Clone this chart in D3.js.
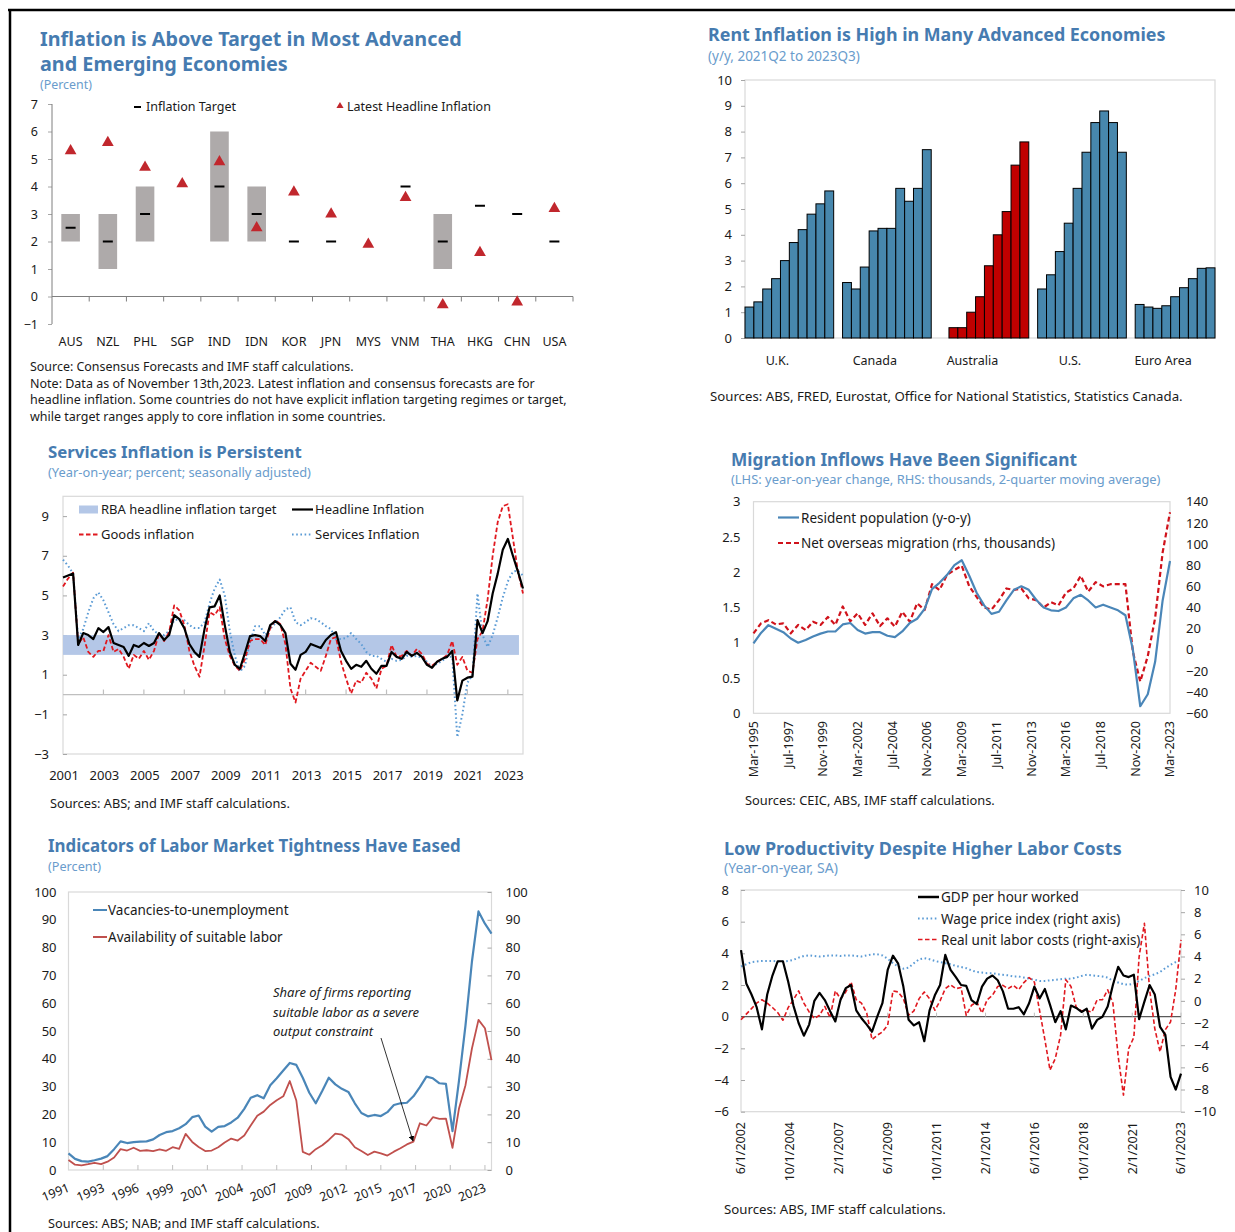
<!DOCTYPE html>
<html>
<head>
<meta charset="utf-8">
<script src="https://cdn.jsdelivr.net/npm/d3@7"></script>
<style>
body { margin: 0; background: #fff; }
</style>
</head>
<body>
<div id="mainDiv"></div>
<script>
// ---------- data ----------
// panel 1: inflation vs target
var countries = ["AUS", "NZL", "PHL", "SGP", "IND", "IDN", "KOR", "JPN", "MYS", "VNM", "THA", "HKG", "CHN", "USA"];
var targetLow = [2, 1, 2, null, 2, 2, null, null, null, null, 1, null, null, null];
var targetHigh = [3, 3, 4, null, 6, 4, null, null, null, null, 3, null, null, null];
var targetPoint = [2.5, 2, 3, null, 4, 3, 2, 2, null, 4, 2, 3.3, 3, 2];
var latestInflation = [5.3, 5.6, 4.7, 4.1, 4.9, 2.5, 3.8, 3.0, 1.9, 3.6, -0.3, 1.6, -0.2, 3.2];

// panel 2: rent inflation, 2021Q2 to 2023Q3
var rentGroups = ["U.K.", "Canada", "Australia", "U.S.", "Euro Area"];
var rentUK = [1.2, 1.4, 1.9, 2.3, 3.0, 3.7, 4.2, 4.8, 5.2, 5.7];
var rentCanada = [2.15, 1.9, 2.75, 4.15, 4.25, 4.25, 5.8, 5.3, 5.8, 7.3];
var rentAustralia = [null, 0.4, 0.4, 1.0, 1.6, 2.8, 4.0, 4.9, 6.7, 7.6];
var rentUS = [1.9, 2.45, 3.35, 4.45, 5.8, 7.2, 8.35, 8.8, 8.35, 7.2];
var rentEuro = [1.3, 1.2, 1.15, 1.25, 1.6, 1.95, 2.3, 2.7, 2.72];

// panel 3: services inflation, quarterly from 2000Q4
var p3TickLabels = ["2001", "2003", "2005", "2007", "2009", "2011", "2013", "2015", "2017", "2019", "2021", "2023"];
var rbaTarget = [2, 3];
var headlineInfl = [5.9, 6.0, 6.1, 2.5, 3.1, 3.0, 2.8, 3.35, 3.15, 3.4, 2.6, 2.5, 2.4, 1.95, 2.5, 2.4, 2.6, 2.45, 2.6, 3.1,
  2.75, 3.0, 4.0, 3.8, 3.35, 2.55, 2.15, 1.9, 3.3, 4.4, 4.45, 5.0, 3.5, 2.15, 1.5, 1.3, 2.1, 2.95, 3.0, 2.95,
  2.7, 3.5, 3.7, 3.5, 3.1, 1.55, 1.25, 2.0, 2.15, 2.55, 2.45, 2.35, 2.75, 3.0, 3.15, 2.2, 1.7, 1.3, 1.5, 1.4,
  1.7, 1.3, 1.05, 1.45, 1.45, 2.15, 1.9, 1.8, 2.15, 1.95, 2.1, 1.9, 1.5, 1.35, 1.65, 1.8, 1.9, 2.2, -0.3, 0.7,
  0.85, 0.9, 3.75, 3.1, 3.7, 5.1, 6.1, 7.3, 7.85, 7.0, 6.2, 5.35];
var goodsInfl = [5.45, 5.85, 6.15, 2.55, 2.9, 2.15, 1.9, 2.2, 2.2, 3.0, 2.15, 2.3, 1.9, 1.3, 2.0, 1.8, 2.2, 1.75, 2.2, 3.1,
  2.7, 3.15, 4.5, 4.25, 3.5, 2.2, 1.45, 0.9, 2.45, 4.15, 4.0, 4.4, 2.8, 1.95, 1.45, 1.2, 1.8, 2.7, 2.8, 2.8,
  2.5, 3.35, 3.75, 3.55, 2.55, 0.3, -0.4, 0.8, 1.2, 1.6, 1.4, 1.2, 1.95, 2.8, 2.9, 1.65, 0.8, 0.05, 0.7, 0.6,
  1.1, 0.8, 0.3, 1.3, 1.45, 2.5, 1.9, 1.95, 2.2, 1.95, 2.3, 2.05, 1.55, 1.45, 1.65, 1.8, 2.0, 2.7, 1.5, 1.9,
  1.2, 1.1, 2.8, 3.2, 4.8, 7.0, 8.7, 9.5, 9.6, 7.9, 6.2, 5.1];
var servicesInfl = [6.8, 6.5, 6.1, 2.8, 3.3, 4.15, 4.85, 5.15, 4.75, 4.15, 3.55, 3.2, 3.35, 3.5, 3.5, 3.35, 3.2, 3.6, 3.2, 3.05,
  3.0, 3.2, 3.75, 3.8, 3.75, 3.5, 3.35, 3.35, 3.65, 4.6, 5.35, 5.8, 5.0, 3.2, 1.95, 1.15, 1.45, 2.65, 3.45, 3.45,
  3.0, 3.3, 3.6, 3.9, 4.3, 4.4, 3.65, 3.5, 3.65, 3.85, 3.8, 3.65, 3.45, 3.3, 2.8, 2.8, 2.85, 3.1, 2.8, 2.55,
  2.15, 1.95, 1.95, 1.8, 1.65, 1.8, 1.7, 1.75, 1.95, 1.9, 1.95, 1.85, 1.65, 1.4, 1.55, 1.7, 1.9, 1.9, -2.15, -1.0,
  0.6, 0.95, 5.1, 3.0, 2.4, 3.0, 3.9, 4.9, 5.7, 6.2, 6.25, 6.0];

// panel 4: migration, half-yearly Mar-1995 to Mar-2023
var popGrowth = [0.99, 1.14, 1.25, 1.2, 1.15, 1.06, 1.0, 1.04, 1.09, 1.13, 1.16, 1.16, 1.26, 1.28, 1.18, 1.13, 1.15, 1.15, 1.1, 1.08,
  1.16, 1.28, 1.34, 1.48, 1.76, 1.85, 1.96, 2.1, 2.17, 1.95, 1.71, 1.53, 1.41, 1.44, 1.6, 1.75, 1.8, 1.75, 1.61, 1.5,
  1.46, 1.45, 1.5, 1.63, 1.68, 1.6, 1.5, 1.54, 1.5, 1.46, 1.39, 0.9, 0.1, 0.27, 0.73, 1.6, 2.16];
var netMigration = [15.6, 25, 28, 24, 25, 15.6, 23.5, 18.7, 26.6, 23.5, 31, 23.5, 41, 27, 34.5, 23.5, 34.5, 22.5, 29.8, 21.9,
  36, 26.6, 44, 37.6, 62, 56.5, 70.7, 75.4, 79.5, 60, 50, 40, 38, 47, 58, 56.5, 58, 48.7, 47, 40,
  45, 42, 54, 58, 70, 55, 64, 60, 62, 62, 62, -2, -30, -6, 30, 92, 130];

// panel 5: labour market, half-yearly Mar-1991 to Sep-2023
var vacancies = [6.0, 4.0, 3.2, 3.0, 3.5, 4.1, 5.0, 7.5, 10.3, 9.7, 10.0, 10.2, 10.3, 11.0, 12.6, 13.6, 14.0, 15.0, 16.5, 19.0,
  19.6, 15.6, 13.8, 15.5, 15.8, 17.1, 18.8, 22.0, 26.0, 26.9, 25.8, 30.5, 33.0, 35.8, 38.5, 37.8, 33.2, 27.8, 24.0, 28.5,
  33.2, 30.8, 29.2, 28.1, 24.0, 20.5, 19.3, 19.8, 19.4, 20.8, 23.4, 24.0, 24.2, 26.5, 29.8, 33.6, 33.0, 31.2, 31.0, 14.0,
  32.0, 52.0, 75.0, 93.0, 88.6, 85.0];
var suitableLabor = [3.6, 1.9, 1.7, 2.1, 2.6, 2.1, 3.0, 4.5, 7.5, 7.0, 8.0, 6.9, 7.1, 6.8, 7.4, 6.9, 8.2, 7.6, 13.0, 10.1,
  8.3, 6.8, 7.0, 8.2, 9.9, 11.3, 10.6, 12.4, 16.0, 19.5, 21.0, 23.4, 25.1, 26.5, 32.0, 25.0, 6.5, 5.5, 7.5, 8.9,
  10.8, 13.1, 12.7, 11.1, 8.2, 6.8, 5.4, 6.6, 6.0, 5.2, 6.6, 7.8, 9.2, 10.2, 16.8, 16.0, 19.0, 18.4, 18.5, 8.0,
  22.0, 30.5, 43.7, 54.0, 51.0, 39.5];

// panel 6: productivity, quarterly Jun-2002 to Jun-2023
var gdpPerHour = [4.2, 2.1, 1.4, 0.6, -0.8, 1.4, 2.6, 3.5, 3.5, 2.2, 0.7, -0.4, -1.2, -0.5, 1.0, 1.5, 1.05, 0.35, -0.3, 1.05,
  1.8, 2.0, 0.4, -0.1, -0.5, -0.95, 0, 0.85, 2.95, 3.85, 3.35, 1.9, -0.2, -0.55, -0.35, -1.55, 0.4, 1.35, 2.0, 3.9,
  2.95, 2.5, 2.0, 1.95, 1.05, 0.8, 1.9, 2.4, 2.6, 2.3, 1.6, 0.5, 0.5, 0.6, 0.15, 0.85, 1.9, 1.15, 1.75, 0.75,
  -0.35, 0.35, -0.8, 0.7, 0.55, 0.3, 0.5, -0.75, -0.2, 0, 0.65, 2.0, 3.15, 2.6, 2.5, 2.65, -0.15, 0.95, 2.0, 1.4,
  -0.65, -1.15, -3.8, -4.6, -3.6];
var wagePriceIndex = [3.1, 3.3, 3.5, 3.55, 3.6, 3.6, 3.6, 3.55, 3.55, 3.6, 3.7, 3.9, 4.05, 4.1, 4.05, 4.0, 4.05, 4.1, 4.1, 4.05,
  4.1, 4.1, 4.05, 4.0, 4.1, 4.2, 4.2, 4.1, 3.8, 3.4, 3.1, 2.9, 3.0, 3.4, 3.75, 3.85, 3.75, 3.6, 3.5, 3.4,
  3.3, 3.15, 3.05, 2.95, 2.75, 2.6, 2.55, 2.5, 2.5, 2.4, 2.35, 2.3, 2.2, 2.2, 2.1, 2.0, 1.9, 1.8, 1.8, 1.85,
  1.9, 1.95, 2.0, 2.0, 2.1, 2.25, 2.35, 2.3, 2.25, 2.2, 2.1, 1.8, 1.65, 1.5, 1.45, 1.55, 1.8, 2.05, 2.25, 2.4,
  2.6, 2.95, 3.25, 3.5, 3.7];
var realUnitLaborCosts = [-1.7, -1.2, -0.7, -0.2, 0.1, -0.2, -0.6, -1.05, -1.75, -0.6, 0.1, 0.9, -0.2, -1.0, -1.6, -1.3, -0.5, -1.5, 0.9, 0.2,
  0.8, 1.7, 0.1, -0.2, -1.1, -3.5, -3.1, -2.8, -2.2, 0.9, 0.8, 0.2, -1.3, -0.9, 0.2, 0.8, 0.2, -0.85, 0, 1.1,
  1.45, 1.1, 1.2, -1.3, -0.4, -0.1, -1.1, 0.1, 0.5, 1.3, 1.4, 1.1, 1.4, 1.0, 1.65, 2.1, 1.7, -0.9, -3.5, -6.25,
  -5.2, -3.1, 1.9, 1.3, -0.6, -0.9, -0.9, -1.0, 0.1, 0.1, 1.0, -0.2, -5.0, -8.5, -4.3, -3.3, 4.0, 7.0, 1.0, -2.5,
  -4.6, -2.6, -1.9, 1.0, 5.5];

// ---------- setup ----------
var FONT = '"Noto Sans", "Open Sans", sans-serif';
var TITLE_BLUE = "#467bb0";
var SUB_BLUE = "#6a9ccc";

var svg = d3.select("#mainDiv").append("svg")
  .attr("width", 1235)
  .attr("height", 1232)
  .attr("font-family", FONT)
  .style("display", "block");

svg.append("rect").attr("width", 1235).attr("height", 1232).attr("fill", "#fff");

// page frame
svg.append("line").attr("x1", 8).attr("x2", 1235).attr("y1", 10).attr("y2", 10)
  .attr("stroke", "#000").attr("stroke-width", 2.5);
svg.append("line").attr("x1", 10).attr("x2", 10).attr("y1", 9).attr("y2", 1232)
  .attr("stroke", "#000").attr("stroke-width", 2.5);

function fit(sel, width) {
  var len = sel.node().getComputedTextLength();
  var fs = parseFloat(sel.attr("font-size"));
  var ns = fs * width / len;
  sel.attr("font-size", ns);
  return ns;
}

function text(x, y, s, size, fill) {
  return svg.append("text")
    .attr("x", x).attr("y", y)
    .attr("font-size", size)
    .attr("fill", fill || "#1a1a1a")
    .text(s);
}

function title(x, y, lines, width) {
  var t = text(x, y, lines[0], 19, TITLE_BLUE).attr("font-weight", "bold");
  var fs = fit(t, width);
  for (var i = 1; i < lines.length; i++) {
    text(x, y + 25 * i, lines[i], fs, TITLE_BLUE).attr("font-weight", "bold");
  }
}

function subtitle(x, y, s, width) {
  var t = text(x, y, s, 12.5, SUB_BLUE);
  if (width) fit(t, width);
}

function note(x, y, s, width) {
  var t = text(x, y, s, 12.5, "#1a1a1a");
  if (width) fit(t, width);
}

function styleAxis(g, size) {
  g.attr("font-family", FONT);
  g.select(".domain").remove();
  g.selectAll(".tick line").attr("stroke", "#a6a6a6");
  g.selectAll(".tick text").attr("font-size", size || 13).attr("fill", "#1a1a1a");
}

function box(x0, y0, x1, y1) {
  svg.append("rect")
    .attr("x", x0).attr("y", y0)
    .attr("width", x1 - x0).attr("height", y1 - y0)
    .attr("fill", "none")
    .attr("stroke", "#d9d9d9")
    .attr("stroke-width", 1.2);
}

function legendLine(x, y, len, color, width, dash) {
  svg.append("line")
    .attr("x1", x).attr("x2", x + len).attr("y1", y).attr("y2", y)
    .attr("stroke", color).attr("stroke-width", width)
    .attr("stroke-dasharray", dash || null);
}

function drawLine(data, xf, yf, color, width, dash) {
  svg.append("path")
    .datum(data)
    .attr("fill", "none")
    .attr("stroke", color)
    .attr("stroke-width", width)
    .attr("stroke-linejoin", "round")
    .attr("stroke-dasharray", dash || null)
    .attr("d", d3.line().x(xf).y(yf));
}

// ---------- panel 1 ----------
function drawPanel1() {
  title(40, 46, ["Inflation is Above Target in Most Advanced", "and Emerging Economies"], 422);
  subtitle(40, 89, "(Percent)", 52);

  var x = d3.scaleBand().domain(countries).range([52, 573]);
  var y = d3.scaleLinear().domain([-1, 7]).range([324, 104]);
  var bw = x.bandwidth();

  var gy = svg.append("g").attr("transform", "translate(52,0)")
    .call(d3.axisLeft(y).ticks(8).tickSize(4).tickPadding(10));
  styleAxis(gy, 12.5);
  svg.append("line").attr("x1", 52).attr("x2", 52).attr("y1", 104).attr("y2", 324)
    .attr("stroke", "#7f7f7f");

  // x axis on zero
  svg.append("line").attr("x1", 52).attr("x2", 573).attr("y1", y(0)).attr("y2", y(0))
    .attr("stroke", "#7f7f7f");
  countries.forEach(function(c, i) {
    if (i > 0) {
      svg.append("line").attr("x1", x(c)).attr("x2", x(c)).attr("y1", y(0)).attr("y2", y(0) + 5)
        .attr("stroke", "#7f7f7f");
    }
    text(x(c) + bw / 2, 346, c, 12.5).attr("text-anchor", "middle");
  });
  svg.append("line").attr("x1", 573).attr("x2", 573).attr("y1", y(0)).attr("y2", y(0) + 5)
    .attr("stroke", "#7f7f7f");

  // target ranges
  countries.forEach(function(c, i) {
    if (targetLow[i] != null) {
      svg.append("rect")
        .attr("x", x(c) + bw * 0.25)
        .attr("width", bw * 0.5)
        .attr("y", y(targetHigh[i]))
        .attr("height", y(targetLow[i]) - y(targetHigh[i]))
        .attr("fill", "#aeaaaa");
    }
  });
  countries.forEach(function(c, i) {
    if (targetPoint[i] != null) {
      var cx = x(c) + bw / 2;
      svg.append("line").attr("x1", cx - 5).attr("x2", cx + 5)
        .attr("y1", y(targetPoint[i])).attr("y2", y(targetPoint[i]))
        .attr("stroke", "#000").attr("stroke-width", 2);
    }
    svg.append("path")
      .attr("d", d3.symbol(d3.symbolTriangle, 60)())
      .attr("transform", "translate(" + (x(c) + bw / 2) + "," + y(latestInflation[i]) + ")")
      .attr("fill", "#c1272d");
  });

  // legend
  legendLine(134, 107, 7, "#000", 2);
  text(146, 111, "Inflation Target", 12.5);
  svg.append("path").attr("d", d3.symbol(d3.symbolTriangle, 22)())
    .attr("transform", "translate(340,106)").attr("fill", "#c1272d");
  text(347, 111, "Latest Headline Inflation", 12.5);

  note(30, 371, "Source: Consensus Forecasts and IMF staff calculations.", 324);
  note(30, 388, "Note: Data as of November 13th,2023. Latest inflation and consensus forecasts are for", 505);
  note(30, 404, "headline inflation. Some countries do not have explicit inflation targeting regimes or target,", 537);
  note(30, 421, "while target ranges apply to core inflation in some countries.", 356);
}

// ---------- panel 2 ----------
function drawPanel2() {
  title(708, 41, ["Rent Inflation is High in Many Advanced Economies"], 458);
  subtitle(708, 61, "(y/y, 2021Q2 to 2023Q3)", 152);

  var series = [rentUK, rentCanada, rentAustralia, rentUS, rentEuro];
  var slots = [];
  rentGroups.forEach(function(g, gi) {
    if (gi > 0) slots.push({ id: "gap" + gi });
    series[gi].forEach(function(v, i) {
      slots.push({ id: g + i, group: gi, v: v });
    });
  });

  var x = d3.scaleBand().domain(slots.map(function(d) { return d.id; })).range([745, 1215]);
  var y = d3.scaleLinear().domain([0, 10]).range([338, 80]);

  box(745, 80, 1215, 338);
  var gy = svg.append("g").attr("transform", "translate(745,0)")
    .call(d3.axisLeft(y).ticks(10).tickSize(4).tickPadding(9));
  styleAxis(gy, 13);

  svg.selectAll(".rentbar")
    .data(slots.filter(function(d) { return d.v != null; }))
    .enter().append("rect")
    .attr("x", function(d) { return x(d.id); })
    .attr("width", x.bandwidth())
    .attr("y", function(d) { return y(d.v); })
    .attr("height", function(d) { return y(0) - y(d.v); })
    .attr("fill", function(d) { return d.group === 2 ? "#c00000" : "#4787ad"; })
    .attr("stroke", "#000")
    .attr("stroke-width", 1);

  rentGroups.forEach(function(g, gi) {
    var ids = slots.filter(function(d) { return d.group === gi; });
    var c = (x(ids[0].id) + x(ids[ids.length - 1].id) + x.bandwidth()) / 2;
    text(c - 12, 365, g, 12.5).attr("text-anchor", "middle");
  });

  note(710, 401, "Sources: ABS, FRED, Eurostat, Office for National Statistics, Statistics Canada.", 473);
}

// ---------- panel 3 ----------
function drawPanel3() {
  title(48, 458, ["Services Inflation is Persistent"], 254);
  subtitle(48, 477, "(Year-on-year; percent; seasonally adjusted)", 263);

  var x = d3.scaleLinear().domain([0, headlineInfl.length - 1]).range([63, 523]);
  var y = d3.scaleLinear().domain([-3, 10]).range([754, 496.3]);

  box(63, 496.3, 523, 754);
  var gy = svg.append("g").attr("transform", "translate(63,0)")
    .call(d3.axisLeft(y).tickValues([-3, -1, 1, 3, 5, 7, 9]).tickSize(-4).tickPadding(14));
  styleAxis(gy, 13);

  // target band
  svg.append("rect")
    .attr("x", x(0)).attr("width", x(90.2) - x(0))
    .attr("y", y(rbaTarget[1])).attr("height", y(rbaTarget[0]) - y(rbaTarget[1]))
    .attr("fill", "#b4c7e7");

  // zero line with ticks
  svg.append("line").attr("x1", 63).attr("x2", 523).attr("y1", y(0)).attr("y2", y(0))
    .attr("stroke", "#bfbfbf").attr("stroke-width", 1.2);
  p3TickLabels.forEach(function(lab, i) {
    var xx = x(i * 8);
    if (i > 0) {
      svg.append("line").attr("x1", xx).attr("x2", xx).attr("y1", y(0)).attr("y2", y(0) - 5)
        .attr("stroke", "#bfbfbf").attr("stroke-width", 1.2);
    }
    text(xx + 1, 780, lab, 13).attr("text-anchor", "middle");
  });

  var xf = function(d, i) { return x(i); };
  var yf = function(d) { return y(d); };
  drawLine(servicesInfl, xf, yf, "#5b9bd5", 2, "1.6,2.6");
  drawLine(goodsInfl, xf, yf, "#e0181f", 1.8, "4.5,2.5");
  drawLine(headlineInfl, xf, yf, "#000", 2.2);

  // legend
  svg.append("rect").attr("x", 79).attr("y", 505.5).attr("width", 19).attr("height", 8).attr("fill", "#b4c7e7");
  text(101, 514, "RBA headline inflation target", 13);
  legendLine(292, 509.5, 21, "#000", 2.2);
  text(315, 514, "Headline Inflation", 13);
  legendLine(79, 534.5, 20, "#e0181f", 1.8, "4.5,2.5");
  text(101, 539, "Goods inflation", 13);
  legendLine(292, 534.5, 21, "#5b9bd5", 2, "1.6,2.6");
  text(315, 539, "Services Inflation", 13);

  note(50, 808, "Sources: ABS; and IMF staff calculations.", 240);
}

// ---------- panel 4 ----------
function drawPanel4() {
  title(731, 466, ["Migration Inflows Have Been Significant"], 346);
  subtitle(731, 484, "(LHS: year-on-year change, RHS: thousands, 2-quarter moving average)", 430);

  var dates = d3.timeMonth.range(new Date(1995, 2, 1), new Date(2023, 2, 2), 6);
  var x = d3.scaleTime().domain([new Date(1995, 2, 1), new Date(2023, 2, 1)]).range([753.5, 1170]);
  var yL = d3.scaleLinear().domain([0, 3]).range([713.3, 501.7]);
  var yR = d3.scaleLinear().domain([-60, 140]).range([713.3, 501.7]);

  box(753.5, 501.7, 1170, 713.3);
  var gl = svg.append("g").attr("transform", "translate(753.5,0)")
    .call(d3.axisLeft(yL).tickValues([0, 0.5, 1, 1.5, 2, 2.5, 3]).tickFormat(function(d) { return d; })
      .tickSize(0).tickPadding(13));
  styleAxis(gl, 13);
  var gr = svg.append("g").attr("transform", "translate(1170,0)")
    .call(d3.axisRight(yR).ticks(10).tickSize(0).tickPadding(16));
  styleAxis(gr, 13);

  var ticks = d3.timeMonth.range(new Date(1995, 2, 1), new Date(2023, 3, 1), 28);
  var fmt = d3.timeFormat("%b-%Y");
  ticks.forEach(function(d) {
    var xx = x(d);
    text(xx, 721, fmt(d), 12.5)
      .attr("text-anchor", "end")
      .attr("dy", "0.35em")
      .attr("transform", "rotate(-90," + xx + ",721)");
  });

  drawLine(netMigration, function(d, i) { return x(dates[i]); }, function(d) { return yR(d); }, "#d0121b", 2.2, "5,3");
  drawLine(popGrowth, function(d, i) { return x(dates[i]); }, function(d) { return yL(d); }, "#4a86b8", 2.2);

  legendLine(778, 517.5, 21, "#4a86b8", 2.2);
  text(801, 522.5, "Resident population (y-o-y)", 13.5);
  legendLine(778, 543, 21, "#d0121b", 2.2, "5,3");
  text(801, 548, "Net overseas migration (rhs, thousands)", 13.5);

  note(745, 805, "Sources: CEIC, ABS, IMF staff calculations.", 250);
}

// ---------- panel 5 ----------
function drawPanel5() {
  title(48, 852, ["Indicators of Labor Market Tightness Have Eased"], 413);
  subtitle(48, 871, "(Percent)", 53);

  var dates = d3.timeMonth.range(new Date(1991, 2, 1), new Date(2023, 9, 1), 6);
  var x = d3.scaleTime().domain([new Date(1991, 2, 1), new Date(2023, 8, 1)]).range([68.5, 491.5]);
  var y = d3.scaleLinear().domain([0, 100]).range([1170, 892]);

  box(68.5, 892, 491.5, 1170);
  var gl = svg.append("g").attr("transform", "translate(68.5,0)")
    .call(d3.axisLeft(y).ticks(10).tickSize(0).tickPadding(12));
  styleAxis(gl, 13);
  var gr = svg.append("g").attr("transform", "translate(491.5,0)")
    .call(d3.axisRight(y).ticks(10).tickSize(-4).tickPadding(14));
  styleAxis(gr, 13);

  var ticks = d3.timeMonth.range(new Date(1991, 2, 1), new Date(2023, 3, 1), 32);
  ticks.forEach(function(d, i) {
    var xx = x(d);
    if (i > 0) {
      svg.append("line").attr("x1", xx).attr("x2", xx).attr("y1", 1170).attr("y2", 1165)
        .attr("stroke", "#bfbfbf");
    }
    text(xx + 2, 1191, d3.timeFormat("%Y")(d), 12.5)
      .attr("text-anchor", "end")
      .attr("transform", "rotate(-22," + (xx + 2) + ",1191)");
  });

  drawLine(suitableLabor, function(d, i) { return x(dates[i]); }, function(d) { return y(d); }, "#c0504d", 1.8);
  drawLine(vacancies, function(d, i) { return x(dates[i]); }, function(d) { return y(d); }, "#4a86b8", 2.2);

  legendLine(93, 910, 14, "#4a86b8", 2);
  text(108, 915, "Vacancies-to-unemployment", 13.5);
  legendLine(93, 937, 14, "#c0504d", 2);
  text(108, 942, "Availability of suitable labor", 13.5);

  // annotation
  var ann = ["Share of firms reporting", "suitable labor as a severe", "output constraint"];
  ann.forEach(function(s, i) {
    text(273, 997 + 19.5 * i, s, 13, "#222").attr("font-style", "italic");
  });
  svg.append("defs").append("marker")
    .attr("id", "arrowhead")
    .attr("viewBox", "0 0 10 10")
    .attr("refX", 9).attr("refY", 5)
    .attr("markerWidth", 7).attr("markerHeight", 7)
    .attr("orient", "auto")
    .append("path").attr("d", "M0,0 L10,5 L0,10 z").attr("fill", "#000");
  svg.append("line")
    .attr("x1", 381).attr("y1", 1038).attr("x2", 413).attr("y2", 1141)
    .attr("stroke", "#000").attr("stroke-width", 0.8)
    .attr("marker-end", "url(#arrowhead)");

  note(48, 1228, "Sources: ABS; NAB; and IMF staff calculations.", 272);
}

// ---------- panel 6 ----------
function drawPanel6() {
  title(724, 855, ["Low Productivity Despite Higher Labor Costs"], 398);
  subtitle(724, 873, "(Year-on-year, SA)", 114);

  var dates = d3.timeMonth.range(new Date(2002, 5, 1), new Date(2023, 6, 1), 3);
  var x = d3.scaleTime().domain([new Date(2002, 5, 1), new Date(2023, 5, 1)]).range([741, 1181]);
  var yL = d3.scaleLinear().domain([-6, 8]).range([1111.7, 890]);
  var yR = d3.scaleLinear().domain([-10, 10]).range([1111.7, 890]);

  box(741, 890, 1181, 1111.7);
  var gl = svg.append("g").attr("transform", "translate(741,0)")
    .call(d3.axisLeft(yL).ticks(7).tickSize(-4).tickPadding(12));
  styleAxis(gl, 13);
  var gr = svg.append("g").attr("transform", "translate(1181,0)")
    .call(d3.axisRight(yR).ticks(10).tickSize(4).tickPadding(9));
  styleAxis(gr, 13);

  svg.append("line").attr("x1", 741).attr("x2", 1181).attr("y1", yL(0)).attr("y2", yL(0))
    .attr("stroke", "#595959").attr("stroke-width", 1.2);

  var ticks = d3.timeMonth.range(new Date(2002, 5, 1), new Date(2023, 6, 1), 28);
  var fmt = d3.timeFormat("%-m/%-d/%Y");
  ticks.forEach(function(d, i) {
    var xx = x(d);
    if (i > 0) {
      svg.append("line").attr("x1", xx).attr("x2", xx).attr("y1", yL(0)).attr("y2", yL(0) - 4)
        .attr("stroke", "#bfbfbf");
    }
    text(xx, 1122, fmt(d), 12.5)
      .attr("text-anchor", "end")
      .attr("dy", "0.35em")
      .attr("transform", "rotate(-90," + xx + ",1122)");
  });

  var xf = function(d, i) { return x(dates[i]); };
  drawLine(wagePriceIndex, xf, function(d) { return yR(d); }, "#5b9bd5", 2, "1.6,2.6");
  drawLine(realUnitLaborCosts, xf, function(d) { return yR(d); }, "#e0181f", 1.6, "4.5,2.5");
  drawLine(gdpPerHour, xf, function(d) { return yL(d); }, "#000", 2.2);

  legendLine(918, 897, 21, "#000", 2.5);
  text(941, 902, "GDP per hour worked", 13.5);
  legendLine(918, 918.5, 21, "#5b9bd5", 2, "1.6,2.6");
  text(941, 923.5, "Wage price index (right axis)", 13.5);
  legendLine(918, 939.5, 21, "#e0181f", 1.6, "4.5,2.5");
  text(941, 944.5, "Real unit labor costs (right-axis)", 13.5);

  note(724, 1214, "Sources: ABS, IMF staff calculations.", 222);
}

drawPanel1();
drawPanel2();
drawPanel3();
drawPanel4();
drawPanel5();
drawPanel6();
</script>
</body>
</html>
